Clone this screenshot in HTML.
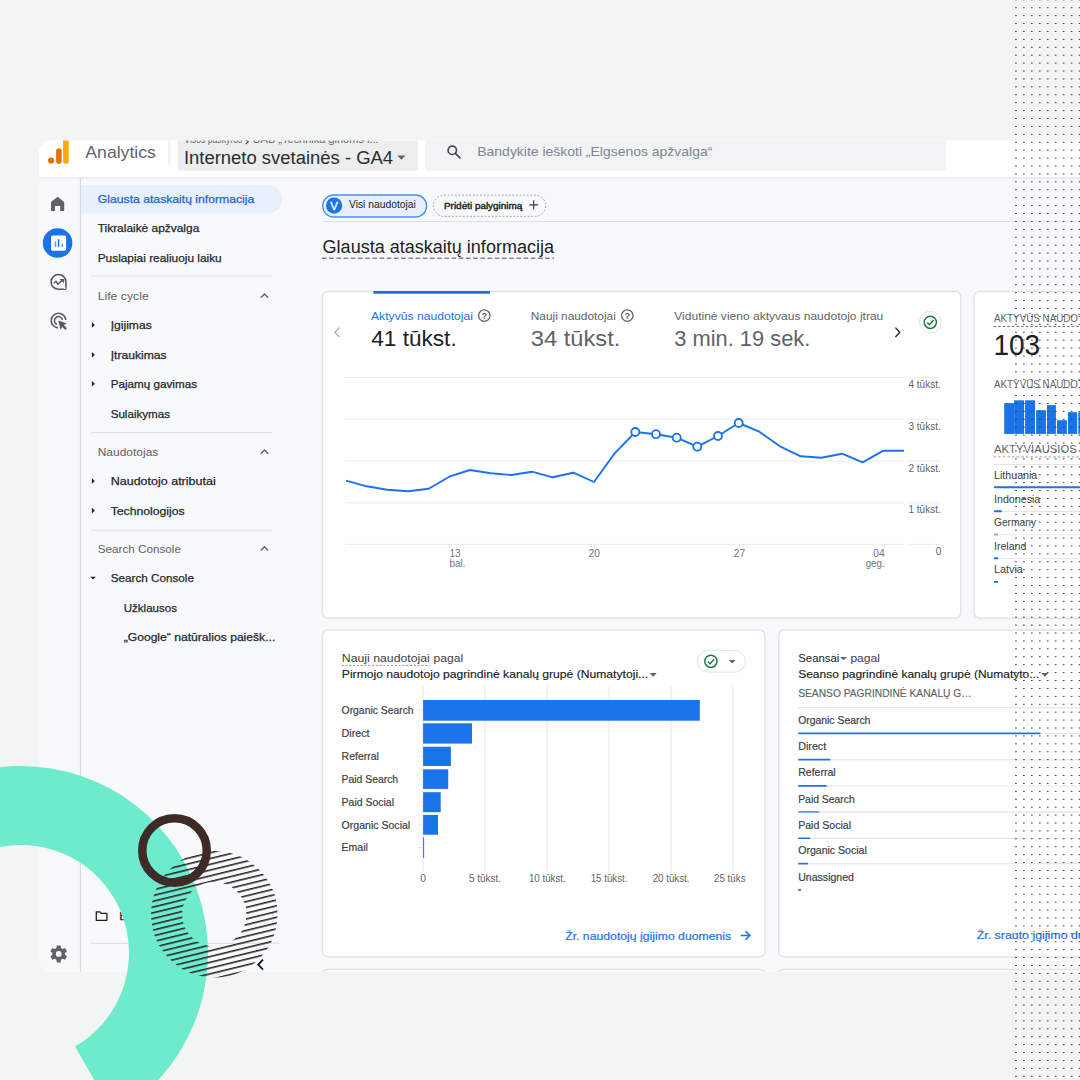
<!DOCTYPE html>
<html lang="lt"><head><meta charset="utf-8"><title>Analytics</title>
<style>
html,body{margin:0;padding:0;background:#f3f5f4;}
body{width:1080px;height:1080px;overflow:hidden;font-family:"Liberation Sans",sans-serif;}
svg{display:block;font-family:"Liberation Sans",sans-serif;}
</style></head><body>
<svg width="1080" height="1080" viewBox="0 0 1080 1080">
<defs>
<clipPath id="shot"><path d="M50.1 140.6H1080V972H50.1a11 11 0 0 1-11-11V151.6a11 11 0 0 1 11-11z"/></clipPath>
<pattern id="dots" x="1011.93" y="-3.585" width="7.955" height="7.911" patternUnits="userSpaceOnUse">
<rect x="3.13" y="3.42" width="1.7" height="1.08" rx="0.45" fill="#3c3c3c"/></pattern>
<pattern id="hatch" x="0" y="0.15" width="10" height="5.6" patternUnits="userSpaceOnUse" patternTransform="translate(214.3 914.2) rotate(-13.7)">
<rect x="0" y="0" width="10" height="1.55" fill="#242424"/></pattern>
<mask id="donut"><rect x="140" y="840" width="150" height="150" fill="#000"/>
<circle cx="214.3" cy="914.2" r="47.7" fill="none" stroke="#fff" stroke-width="31"/></mask>
</defs>

<rect x="0.00" y="0.00" width="1080.00" height="1080.00" fill="#f3f5f4" />
<g clip-path="url(#shot)">
<rect x="0.00" y="0.00" width="1080.00" height="1080.00" fill="#f8f9fa" />
<rect x="0.00" y="130.00" width="1080.00" height="47.40" fill="#ffffff" />
<line x1="0.00" y1="177.80" x2="1080.00" y2="177.80" stroke="#e4e6ec" stroke-width="1.2" />
<circle cx="51.1" cy="160.5" r="3.1" fill="#e37400"/>
<rect x="56.10" y="148.20" width="5.60" height="15.50" rx="2.8" fill="#e37400" />
<rect x="63.10" y="132.00" width="5.60" height="31.70" rx="2.8" fill="#f9ab00" />
<text x="85.30" y="157.50" font-size="17" fill="#5f6368" textLength="70.60" lengthAdjust="spacingAndGlyphs">Analytics</text>
<line x1="169.10" y1="138.00" x2="169.10" y2="164.60" stroke="#e3e5e8" stroke-width="1.2" />
<rect x="177.80" y="130.00" width="240.30" height="40.70" rx="4" fill="#eceeee" />
<text x="184.30" y="143.00" font-size="10" fill="#5f6368" textLength="58.00" lengthAdjust="spacingAndGlyphs">Visos paskyros</text>
<path d="M245.8 139.6l2.4 2.2-2.4 2.2" fill="none" stroke="#3c4043" stroke-width="1.1"/>
<text x="252.60" y="143.00" font-size="10" fill="#5f6368" textLength="126.00" lengthAdjust="spacingAndGlyphs">UAB „Technika ginoms i...</text>
<text x="183.90" y="163.70" font-size="17.6" fill="#2a2c2f" textLength="209.20" lengthAdjust="spacingAndGlyphs">Interneto svetainės - GA4</text>
<path d="M397.3 155.6h8.2l-4.1 4.2z" fill="#5f6368"/>
<rect x="425.00" y="130.00" width="521.00" height="40.70" rx="4" fill="#f1f3f4" />
<g fill="none" stroke="#47494d" stroke-width="1.7"><circle cx="452.3" cy="150.3" r="4.2"/><path d="M455.4 153.4l4.5 4.5" stroke-linecap="round"/></g>
<text x="477.30" y="156.20" font-size="12.8" fill="#80868b" textLength="235.00" lengthAdjust="spacingAndGlyphs">Bandykite ieškoti „Elgsenos apžvalga“</text>
<line x1="80.40" y1="178.00" x2="80.40" y2="980.00" stroke="#d3d5d9" stroke-width="1.0" />
<path d="M57.6 196.8L64.2 202.1V211.0H60.2V206.0H55.0V211.0H51.0V202.1Z" fill="#5f6368"/>
<circle cx="57.6" cy="243.0" r="14.8" fill="#1a73e8"/>
<rect x="51.00" y="235.60" width="15.10" height="15.20" rx="1.7" fill="#ffffff" />
<rect x="54.70" y="241.40" width="1.50" height="5.50" fill="#4da3f8" />
<rect x="57.80" y="239.10" width="1.50" height="7.80" fill="#1a73e8" />
<rect x="61.50" y="243.50" width="1.60" height="3.40" fill="#4da3f8" />
<g fill="none" stroke="#565a60" stroke-width="1.6"><path d="M65.9 288.6v-6.7a7.4 7.4 0 1 0-7.4 7.4h6.7z" stroke-linejoin="round"/><path d="M53.7 283.3l2.3-2.0 1.9 3.0 4.2-4.0" stroke-width="1.5"/></g>
<path d="M59.6 278.9h4.3v4.3z" fill="#565a60"/>
<circle cx="64.7" cy="288.0" r="1.0" fill="#f8f9fa"/>
<g fill="none" stroke="#565a60" stroke-width="1.6"><path d="M58.0 327.9a7.3 7.3 0 1 1 7.8-7.9"/><path d="M56.9 324.5a4.1 4.1 0 1 1 5.6-4.6" stroke-width="1.5"/></g>
<path d="M58.3 320.4l8.6 3.2-3.2 1.5 3.2 3.2-1.6 1.6-3.2-3.2-1.5 3.2z" fill="#565a60"/>
<g transform="translate(58.7 953.9) scale(0.81)"><path fill="#5f6368" d="M9.3 1.2c0-.4 0-.8-.1-1.2l2.5-2-2.4-4.1-3 1.2c-.6-.5-1.300-.9-2-1.200L3.800-9.300H-.9l-.5 3.200c-.7.3-1.400.7-2 1.200l-3-1.200-2.400 4.100 2.500 2c-.1.400-.1.800-.1 1.200s0 .8.100 1.200l-2.500 2 2.400 4.100 3-1.200c.6.500 1.300.9 2 1.200l.5 3.200h4.700l.5-3.200c.7-.3 1.400-.7 2-1.200l3 1.200 2.400-4.100-2.500-2c.1-.4.100-.8.100-1.200zM1.450 4.750a3.550 3.550 0 1 1 0-7.100 3.550 3.550 0 0 1 0 7.100z" transform="translate(-1.45 -1.2)"/></g>
<path d="M81 185.0h187.2a14.2 14.2 0 0 1 0 28.4H81z" fill="#e8f0fe"/>
<text x="97.80" y="202.70" font-size="11" fill="#1967d2" textLength="156.50" lengthAdjust="spacingAndGlyphs" stroke="#1967d2" stroke-width="0.25">Glausta ataskaitų informacija</text>
<text x="97.70" y="231.80" font-size="11" fill="#24272b" textLength="101.60" lengthAdjust="spacingAndGlyphs" stroke="#24272b" stroke-width="0.25">Tikralaikė apžvalga</text>
<text x="97.70" y="261.70" font-size="11" fill="#24272b" textLength="124.00" lengthAdjust="spacingAndGlyphs" stroke="#24272b" stroke-width="0.25">Puslapiai realiuoju laiku</text>
<line x1="91.00" y1="276.10" x2="272.00" y2="276.10" stroke="#dadce0" stroke-width="0.9" />
<text x="97.70" y="300.00" font-size="11" fill="#5f6368" textLength="51.00" lengthAdjust="spacingAndGlyphs">Life cycle</text>
<path d="M260.8 297.8l3.7-3.7 3.7 3.7" fill="none" stroke="#5f6368" stroke-width="1.4"/>
<path d="M91.9 322.2v5.6l2.9-2.8z" fill="#1f1f1f"/>
<text x="110.70" y="329.00" font-size="11" fill="#24272b" textLength="41.00" lengthAdjust="spacingAndGlyphs" stroke="#24272b" stroke-width="0.25">Įgijimas</text>
<path d="M91.9 352.0v5.6l2.9-2.8z" fill="#1f1f1f"/>
<text x="110.70" y="358.80" font-size="11" fill="#24272b" textLength="56.00" lengthAdjust="spacingAndGlyphs" stroke="#24272b" stroke-width="0.25">Įtraukimas</text>
<path d="M91.9 381.0v5.6l2.9-2.8z" fill="#1f1f1f"/>
<text x="110.70" y="387.80" font-size="11" fill="#24272b" textLength="86.30" lengthAdjust="spacingAndGlyphs" stroke="#24272b" stroke-width="0.25">Pajamų gavimas</text>
<text x="110.70" y="417.60" font-size="11" fill="#24272b" textLength="59.30" lengthAdjust="spacingAndGlyphs" stroke="#24272b" stroke-width="0.25">Sulaikymas</text>
<line x1="91.00" y1="432.70" x2="272.00" y2="432.70" stroke="#dadce0" stroke-width="1" />
<text x="97.70" y="456.00" font-size="11" fill="#5f6368" textLength="60.60" lengthAdjust="spacingAndGlyphs">Naudotojas</text>
<path d="M260.8 453.8l3.7-3.7 3.7 3.7" fill="none" stroke="#5f6368" stroke-width="1.4"/>
<path d="M91.9 478.2v5.6l2.9-2.8z" fill="#1f1f1f"/>
<text x="110.70" y="485.00" font-size="11" fill="#24272b" textLength="105.00" lengthAdjust="spacingAndGlyphs" stroke="#24272b" stroke-width="0.25">Naudotojo atributai</text>
<path d="M91.9 507.8v5.6l2.9-2.8z" fill="#1f1f1f"/>
<text x="110.70" y="514.60" font-size="11" fill="#24272b" textLength="74.00" lengthAdjust="spacingAndGlyphs" stroke="#24272b" stroke-width="0.25">Technologijos</text>
<line x1="91.00" y1="530.20" x2="272.00" y2="530.20" stroke="#dadce0" stroke-width="1" />
<text x="97.70" y="552.70" font-size="11" fill="#5f6368" textLength="83.30" lengthAdjust="spacingAndGlyphs">Search Console</text>
<path d="M260.8 550.5l3.7-3.7 3.7 3.7" fill="none" stroke="#5f6368" stroke-width="1.4"/>
<path d="M90.3 576.7h5.6l-2.8 2.9z" fill="#1f1f1f"/>
<text x="110.70" y="581.70" font-size="11" fill="#24272b" textLength="83.30" lengthAdjust="spacingAndGlyphs" stroke="#24272b" stroke-width="0.25">Search Console</text>
<text x="123.70" y="611.60" font-size="11" fill="#24272b" textLength="53.30" lengthAdjust="spacingAndGlyphs" stroke="#24272b" stroke-width="0.25">Užklausos</text>
<text x="123.70" y="640.70" font-size="11" fill="#24272b" textLength="151.60" lengthAdjust="spacingAndGlyphs" stroke="#24272b" stroke-width="0.25">„Google“ natūralios paiešk...</text>
<path d="M96.3 911.9h3.6l1.3 1.4h5.7v7.0h-10.6z" fill="none" stroke="#1f1f1f" stroke-width="1.3" stroke-linejoin="round"/>
<text x="119.20" y="919.60" font-size="11" fill="#24272b" textLength="52.00" lengthAdjust="spacingAndGlyphs" stroke="#24272b" stroke-width="0.25">Biblioteka</text>
<line x1="91.00" y1="943.30" x2="279.00" y2="943.30" stroke="#dadce0" stroke-width="1" />
<path d="M263.0 959.6l-4.8 5.0 4.8 5.0" fill="none" stroke="#101828" stroke-width="1.9"/>
<rect x="322.70" y="195.00" width="103.90" height="22.00" rx="11.0" fill="#e8f0fe" stroke="#4e8fee" stroke-width="1.3"/>
<circle cx="334.1" cy="205.6" r="8.1" fill="#1a73e8"/>
<text x="334.10" y="209.70" font-size="11.5" fill="#ffffff" text-anchor="middle" stroke="#ffffff" stroke-width="0.35">V</text>
<text x="349.00" y="208.40" font-size="10" fill="#202124" textLength="66.80" lengthAdjust="spacingAndGlyphs">Visi naudotojai</text>
<rect x="433.40" y="195.10" width="112.30" height="21.20" rx="10.6" fill="none" stroke="#9aa0a6" stroke-width="0.9" stroke-dasharray="2 1.6"/>
<text x="444.00" y="208.50" font-size="9.2" fill="#202124" textLength="78.30" lengthAdjust="spacingAndGlyphs" stroke="#202124" stroke-width="0.4">Pridėti palyginimą</text>
<path d="M529.2 204.8h9M533.7 200.3v9" stroke="#3c4043" stroke-width="1.2" fill="none"/>
<line x1="322.60" y1="221.60" x2="1080.00" y2="221.60" stroke="#d8dadd" stroke-width="0.9" />
<text x="322.60" y="252.60" font-size="17.5" fill="#202124" textLength="231.40" lengthAdjust="spacingAndGlyphs">Glausta ataskaitų informacija</text>
<line x1="322.00" y1="258.20" x2="554.00" y2="258.20" stroke="#80868b" stroke-width="1.4" stroke-dasharray="4.6 2.6"/>
<rect x="322.50" y="291.60" width="638.30" height="326.60" rx="5.5" fill="#ffffff" stroke="#e1e3e8" stroke-width="1.5"/>
<rect x="373.30" y="291.00" width="116.70" height="2.70" rx="0.5" fill="#1a73e8" />
<path d="M339.4 327.6l-4.4 4.7 4.4 4.7" fill="none" stroke="#9aa0a6" stroke-width="1.1"/>
<path d="M895.4 327.6l4.4 4.7-4.4 4.7" fill="none" stroke="#202124" stroke-width="1.3"/>
<text x="371.00" y="320.00" font-size="11" fill="#1a73e8" textLength="102.00" lengthAdjust="spacingAndGlyphs">Aktyvūs naudotojai</text>
<circle cx="484.3" cy="315.6" r="5.7" fill="none" stroke="#5f6368" stroke-width="1.3"/>
<text x="484.30" y="318.90" font-size="9.4" fill="#5f6368" font-weight="700" text-anchor="middle">?</text>
<text x="371.20" y="346.00" font-size="22.5" fill="#202124" textLength="85.50" lengthAdjust="spacingAndGlyphs">41 tūkst.</text>
<text x="530.80" y="320.00" font-size="11" fill="#5f6368" textLength="85.00" lengthAdjust="spacingAndGlyphs">Nauji naudotojai</text>
<circle cx="627.3" cy="315.6" r="5.7" fill="none" stroke="#5f6368" stroke-width="1.3"/>
<text x="627.30" y="318.90" font-size="9.4" fill="#5f6368" font-weight="700" text-anchor="middle">?</text>
<text x="530.80" y="346.00" font-size="22.5" fill="#5f6368" textLength="89.50" lengthAdjust="spacingAndGlyphs">34 tūkst.</text>
<text x="674.30" y="320.00" font-size="11" fill="#5f6368" textLength="209.00" lengthAdjust="spacingAndGlyphs">Vidutinė vieno aktyvaus naudotojo įtrau</text>
<text x="674.30" y="346.00" font-size="22.5" fill="#5f6368" textLength="136.00" lengthAdjust="spacingAndGlyphs">3 min. 19 sek.</text>
<circle cx="930.3" cy="322.3" r="11" fill="#ffffff" stroke="#e3e5e8" stroke-width="1"/>
<circle cx="930.3" cy="322.3" r="6.1" fill="none" stroke="#1b7a3e" stroke-width="1.5"/>
<path d="M927.2 322.5l2.2 2.2 4.2-4.4" fill="none" stroke="#1b7a3e" stroke-width="1.5"/>
<line x1="345.20" y1="377.40" x2="904.00" y2="377.40" stroke="#ebecee" stroke-width="1.0" />
<line x1="908.30" y1="377.40" x2="940.30" y2="377.40" stroke="#ebecee" stroke-width="1.0" />
<line x1="345.20" y1="419.10" x2="904.00" y2="419.10" stroke="#ebecee" stroke-width="1.0" />
<line x1="908.30" y1="419.10" x2="940.30" y2="419.10" stroke="#ebecee" stroke-width="1.0" />
<line x1="345.20" y1="461.00" x2="904.00" y2="461.00" stroke="#ebecee" stroke-width="1.0" />
<line x1="908.30" y1="461.00" x2="940.30" y2="461.00" stroke="#ebecee" stroke-width="1.0" />
<line x1="345.20" y1="502.90" x2="904.00" y2="502.90" stroke="#ebecee" stroke-width="1.0" />
<line x1="908.30" y1="502.90" x2="940.30" y2="502.90" stroke="#ebecee" stroke-width="1.0" />
<line x1="345.20" y1="544.40" x2="904.00" y2="544.40" stroke="#ebecee" stroke-width="1.0" />
<line x1="908.30" y1="544.40" x2="940.30" y2="544.40" stroke="#ebecee" stroke-width="1.0" />
<text x="940.70" y="387.90" font-size="10.6" fill="#5f6368" text-anchor="end" textLength="32.20" lengthAdjust="spacingAndGlyphs">4 tūkst.</text>
<text x="940.70" y="429.60" font-size="10.6" fill="#5f6368" text-anchor="end" textLength="32.20" lengthAdjust="spacingAndGlyphs">3 tūkst.</text>
<text x="940.70" y="471.50" font-size="10.6" fill="#5f6368" text-anchor="end" textLength="32.20" lengthAdjust="spacingAndGlyphs">2 tūkst.</text>
<text x="940.70" y="513.40" font-size="10.6" fill="#5f6368" text-anchor="end" textLength="32.20" lengthAdjust="spacingAndGlyphs">1 tūkst.</text>
<text x="941.30" y="554.50" font-size="10.6" fill="#5f6368" text-anchor="end" textLength="5.60" lengthAdjust="spacingAndGlyphs">0</text>
<line x1="449.30" y1="544.40" x2="449.30" y2="548.00" stroke="#dadce0" stroke-width="1" />
<line x1="594.20" y1="544.40" x2="594.20" y2="548.00" stroke="#dadce0" stroke-width="1" />
<line x1="739.60" y1="544.40" x2="739.60" y2="548.00" stroke="#dadce0" stroke-width="1" />
<line x1="884.30" y1="544.40" x2="884.30" y2="548.00" stroke="#dadce0" stroke-width="1" />
<text x="449.40" y="556.90" font-size="10.6" fill="#70757a" textLength="11.40" lengthAdjust="spacingAndGlyphs">13</text>
<text x="449.60" y="566.80" font-size="10.6" fill="#70757a" textLength="15.80" lengthAdjust="spacingAndGlyphs">bal.</text>
<text x="594.20" y="556.90" font-size="10.6" fill="#70757a" text-anchor="middle" textLength="11.40" lengthAdjust="spacingAndGlyphs">20</text>
<text x="739.40" y="556.90" font-size="10.6" fill="#70757a" text-anchor="middle" textLength="11.40" lengthAdjust="spacingAndGlyphs">27</text>
<text x="884.70" y="556.90" font-size="10.6" fill="#70757a" text-anchor="end" textLength="11.40" lengthAdjust="spacingAndGlyphs">04</text>
<text x="884.70" y="566.80" font-size="10.6" fill="#70757a" text-anchor="end" textLength="19.00" lengthAdjust="spacingAndGlyphs">geg.</text>
<polyline points="346.0,480.7 366.7,486.3 387.3,489.7 408.0,491.3 428.7,488.7 449.3,476.7 470.0,470.0 490.7,473.3 511.3,475.0 532.0,471.7 552.7,477.3 573.3,472.7 594.0,482.0 614.7,453.3 635.3,432.0 656.0,434.2 676.7,437.7 697.3,446.7 718.0,436.0 738.7,423.0 759.3,431.7 780.0,446.3 800.7,456.3 821.3,457.7 842.0,453.7 862.7,462.3 883.3,450.7 904.0,450.7" fill="none" stroke="#1a73e8" stroke-width="1.9" stroke-linejoin="round"/>
<circle cx="635.3" cy="432.0" r="4.0" fill="#ffffff" stroke="#1a73e8" stroke-width="1.8"/>
<circle cx="656.0" cy="434.2" r="4.0" fill="#ffffff" stroke="#1a73e8" stroke-width="1.8"/>
<circle cx="676.7" cy="437.7" r="4.0" fill="#ffffff" stroke="#1a73e8" stroke-width="1.8"/>
<circle cx="697.3" cy="446.7" r="4.0" fill="#ffffff" stroke="#1a73e8" stroke-width="1.8"/>
<circle cx="718.0" cy="436.0" r="4.0" fill="#ffffff" stroke="#1a73e8" stroke-width="1.8"/>
<circle cx="738.7" cy="423.0" r="4.0" fill="#ffffff" stroke="#1a73e8" stroke-width="1.8"/>
<rect x="974.00" y="291.60" width="200.00" height="326.60" rx="5.5" fill="#ffffff" stroke="#e1e3e8" stroke-width="1.5"/>
<text x="994.00" y="322.00" font-size="10.4" fill="#5f6368" textLength="90.00" lengthAdjust="spacingAndGlyphs">AKTYVŪS NAUDOT</text>
<line x1="993.50" y1="326.50" x2="1080.00" y2="326.50" stroke="#5f6368" stroke-width="0.9" stroke-dasharray="2.6 2"/>
<text x="993.40" y="354.70" font-size="29.5" fill="#202124" textLength="46.80" lengthAdjust="spacingAndGlyphs">103</text>
<text x="994.00" y="387.80" font-size="10.4" fill="#5f6368" textLength="90.00" lengthAdjust="spacingAndGlyphs">AKTYVŪS NAUDOT</text>
<rect x="1004.20" y="403.10" width="9.90" height="30.80" fill="#1a73e8" />
<rect x="1014.10" y="400.30" width="10.00" height="33.60" fill="#1a73e8" />
<rect x="1025.10" y="400.30" width="9.90" height="33.60" fill="#1a73e8" />
<rect x="1036.10" y="410.20" width="9.90" height="23.70" fill="#1a73e8" />
<rect x="1047.00" y="405.10" width="8.90" height="28.80" fill="#1a73e8" />
<rect x="1057.00" y="420.20" width="9.90" height="13.70" fill="#1a73e8" />
<rect x="1068.00" y="412.20" width="9.20" height="21.70" fill="#1a73e8" />
<rect x="1078.30" y="412.20" width="9.90" height="21.70" fill="#1a73e8" />
<text x="994.00" y="452.80" font-size="10.4" fill="#5f6368" textLength="93.50" lengthAdjust="spacingAndGlyphs">AKTYVIAUSIOS Š</text>
<line x1="993.50" y1="456.90" x2="1080.00" y2="456.90" stroke="#9aa0a6" stroke-width="1" stroke-dasharray="2.6 2"/>
<line x1="993.50" y1="464.50" x2="1080.00" y2="464.50" stroke="#e3e5e8" stroke-width="1" />
<text x="994.00" y="478.80" font-size="10.2" fill="#3c4043" textLength="43.30" lengthAdjust="spacingAndGlyphs">Lithuania</text>
<line x1="993.50" y1="487.50" x2="1080.00" y2="487.50" stroke="#e3e5e8" stroke-width="1" />
<rect x="994.00" y="486.30" width="90.00" height="1.90" rx="0.4" fill="#1a73e8" />
<text x="994.00" y="502.80" font-size="10.2" fill="#3c4043" textLength="46.30" lengthAdjust="spacingAndGlyphs">Indonesia</text>
<line x1="993.50" y1="511.50" x2="1080.00" y2="511.50" stroke="#e3e5e8" stroke-width="1" />
<rect x="994.00" y="510.30" width="7.80" height="1.90" rx="0.4" fill="#1a73e8" />
<text x="994.00" y="526.10" font-size="10.2" fill="#3c4043" textLength="42.00" lengthAdjust="spacingAndGlyphs">Germany</text>
<line x1="993.50" y1="534.80" x2="1080.00" y2="534.80" stroke="#e3e5e8" stroke-width="1" />
<rect x="994.00" y="533.60" width="4.20" height="1.90" rx="0.4" fill="#8ab4f8" />
<text x="994.00" y="549.80" font-size="10.2" fill="#3c4043" textLength="32.30" lengthAdjust="spacingAndGlyphs">Ireland</text>
<line x1="993.50" y1="558.50" x2="1080.00" y2="558.50" stroke="#e3e5e8" stroke-width="1" />
<rect x="994.00" y="557.30" width="4.20" height="1.90" rx="0.4" fill="#1a73e8" />
<text x="994.00" y="573.40" font-size="10.2" fill="#3c4043" textLength="28.80" lengthAdjust="spacingAndGlyphs">Latvia</text>
<rect x="994.00" y="580.90" width="4.20" height="1.90" rx="0.4" fill="#1a73e8" />
<rect x="322.50" y="630.00" width="442.50" height="326.90" rx="5.5" fill="#ffffff" stroke="#e1e3e8" stroke-width="1.5"/>
<text x="341.80" y="662.20" font-size="11" fill="#3c4043" textLength="88.00" lengthAdjust="spacingAndGlyphs">Nauji naudotojai</text>
<text x="433.60" y="662.20" font-size="11" fill="#3c4043" textLength="29.60" lengthAdjust="spacingAndGlyphs">pagal</text>
<line x1="341.50" y1="665.40" x2="430.00" y2="665.40" stroke="#80868b" stroke-width="0.9" stroke-dasharray="2.2 1.6"/>
<text x="341.80" y="678.40" font-size="11" fill="#202124" textLength="306.40" lengthAdjust="spacingAndGlyphs" stroke="#202124" stroke-width="0.15">Pirmojo naudotojo pagrindinė kanalų grupė (Numatytoji...</text>
<path d="M649.6 673.0h7.2l-3.6 3.7z" fill="#5f6368"/>
<rect x="697.30" y="650.40" width="48.30" height="21.80" rx="10.9" fill="#ffffff" stroke="#e3e5e8" stroke-width="1"/>
<circle cx="710.9" cy="661.3" r="6.1" fill="none" stroke="#1b7a3e" stroke-width="1.5"/>
<path d="M707.8 661.5l2.2 2.2 4.2-4.4" fill="none" stroke="#1b7a3e" stroke-width="1.5"/>
<path d="M728.8 659.9h6.8l-3.4 3.5z" fill="#5f6368"/>
<line x1="423.10" y1="686.70" x2="423.10" y2="871.20" stroke="#e6e8eb" stroke-width="1.1" />
<line x1="485.00" y1="686.70" x2="485.00" y2="871.20" stroke="#e6e8eb" stroke-width="1.1" />
<line x1="547.30" y1="686.70" x2="547.30" y2="871.20" stroke="#e6e8eb" stroke-width="1.1" />
<line x1="609.10" y1="686.70" x2="609.10" y2="871.20" stroke="#e6e8eb" stroke-width="1.1" />
<line x1="671.10" y1="686.70" x2="671.10" y2="871.20" stroke="#e6e8eb" stroke-width="1.1" />
<line x1="732.90" y1="686.70" x2="732.90" y2="871.20" stroke="#e6e8eb" stroke-width="1.1" />
<line x1="418.00" y1="710.35" x2="423.10" y2="710.35" stroke="#e6e8eb" stroke-width="1" />
<rect x="423.10" y="700.00" width="276.70" height="20.70" fill="#1a73e8" />
<text x="341.60" y="714.15" font-size="11" fill="#3c4043" textLength="72.00" lengthAdjust="spacingAndGlyphs" stroke="#3c4043" stroke-width="0.2">Organic Search</text>
<line x1="418.00" y1="733.45" x2="423.10" y2="733.45" stroke="#e6e8eb" stroke-width="1" />
<rect x="423.10" y="723.30" width="48.90" height="20.30" fill="#1a73e8" />
<text x="341.60" y="737.25" font-size="11" fill="#3c4043" textLength="28.00" lengthAdjust="spacingAndGlyphs" stroke="#3c4043" stroke-width="0.2">Direct</text>
<line x1="418.00" y1="756.35" x2="423.10" y2="756.35" stroke="#e6e8eb" stroke-width="1" />
<rect x="423.10" y="746.70" width="27.80" height="19.30" fill="#1a73e8" />
<text x="341.60" y="760.15" font-size="11" fill="#3c4043" textLength="37.30" lengthAdjust="spacingAndGlyphs" stroke="#3c4043" stroke-width="0.2">Referral</text>
<line x1="418.00" y1="779.10" x2="423.10" y2="779.10" stroke="#e6e8eb" stroke-width="1" />
<rect x="423.10" y="769.30" width="25.10" height="19.60" fill="#1a73e8" />
<text x="341.60" y="782.90" font-size="11" fill="#3c4043" textLength="56.50" lengthAdjust="spacingAndGlyphs" stroke="#3c4043" stroke-width="0.2">Paid Search</text>
<line x1="418.00" y1="802.20" x2="423.10" y2="802.20" stroke="#e6e8eb" stroke-width="1" />
<rect x="423.10" y="792.20" width="17.60" height="20.00" fill="#1a73e8" />
<text x="341.60" y="806.00" font-size="11" fill="#3c4043" textLength="52.40" lengthAdjust="spacingAndGlyphs" stroke="#3c4043" stroke-width="0.2">Paid Social</text>
<line x1="418.00" y1="824.80" x2="423.10" y2="824.80" stroke="#e6e8eb" stroke-width="1" />
<rect x="423.10" y="814.90" width="14.90" height="19.80" fill="#1a73e8" />
<text x="341.60" y="828.60" font-size="11" fill="#3c4043" textLength="68.60" lengthAdjust="spacingAndGlyphs" stroke="#3c4043" stroke-width="0.2">Organic Social</text>
<line x1="418.00" y1="847.55" x2="423.10" y2="847.55" stroke="#e6e8eb" stroke-width="1" />
<rect x="423.10" y="837.30" width="1.00" height="20.50" fill="#1a73e8" />
<text x="341.60" y="851.35" font-size="11" fill="#3c4043" textLength="26.20" lengthAdjust="spacingAndGlyphs" stroke="#3c4043" stroke-width="0.2">Email</text>
<text x="423.10" y="881.60" font-size="10.2" fill="#5f6368" text-anchor="middle">0</text>
<text x="485.00" y="881.60" font-size="10.2" fill="#5f6368" text-anchor="middle" textLength="32.00" lengthAdjust="spacingAndGlyphs">5 tūkst.</text>
<text x="547.30" y="881.60" font-size="10.2" fill="#5f6368" text-anchor="middle" textLength="36.80" lengthAdjust="spacingAndGlyphs">10 tūkst.</text>
<text x="609.10" y="881.60" font-size="10.2" fill="#5f6368" text-anchor="middle" textLength="36.80" lengthAdjust="spacingAndGlyphs">15 tūkst.</text>
<text x="671.10" y="881.60" font-size="10.2" fill="#5f6368" text-anchor="middle" textLength="36.80" lengthAdjust="spacingAndGlyphs">20 tūkst.</text>
<text x="714.00" y="881.60" font-size="10.2" fill="#5f6368" textLength="31.60" lengthAdjust="spacingAndGlyphs">25 tūks</text>
<text x="565.20" y="939.50" font-size="11" fill="#1a73e8" textLength="166.00" lengthAdjust="spacingAndGlyphs" stroke="#1a73e8" stroke-width="0.2">Žr. naudotojų įgijimo duomenis</text>
<path d="M740.6 935.5h9.2M745.6 931.3l4.2 4.2-4.2 4.2" fill="none" stroke="#1a73e8" stroke-width="1.6"/>
<rect x="778.70" y="630.00" width="400.00" height="326.90" rx="5.5" fill="#ffffff" stroke="#e1e3e8" stroke-width="1.5"/>
<text x="798.20" y="662.20" font-size="11" fill="#202124" textLength="41.20" lengthAdjust="spacingAndGlyphs">Seansai</text>
<path d="M840.2 656.9h6.6l-3.3 3.4z" fill="#5f6368"/>
<text x="850.40" y="662.20" font-size="11" fill="#3c4043" textLength="29.60" lengthAdjust="spacingAndGlyphs">pagal</text>
<text x="798.20" y="678.30" font-size="11" fill="#202124" textLength="241.00" lengthAdjust="spacingAndGlyphs" stroke="#202124" stroke-width="0.15">Seanso pagrindinė kanalų grupė (Numatyto...</text>
<path d="M1041.2 673.0h7.2l-3.6 3.7z" fill="#5f6368"/>
<text x="798.20" y="696.90" font-size="10.2" fill="#5f6368" textLength="173.40" lengthAdjust="spacingAndGlyphs" stroke="#5f6368" stroke-width="0.15">SEANSO PAGRINDINĖ KANALŲ G…</text>
<line x1="798.00" y1="707.60" x2="1080.00" y2="707.60" stroke="#e3e5e8" stroke-width="1.1" />
<text x="798.20" y="723.90" font-size="11" fill="#3c4043" textLength="72.20" lengthAdjust="spacingAndGlyphs" stroke="#3c4043" stroke-width="0.2">Organic Search</text>
<line x1="798.00" y1="733.50" x2="1080.00" y2="733.50" stroke="#e3e5e8" stroke-width="1.1" />
<rect x="798.20" y="732.50" width="242.20" height="1.70" rx="0.3" fill="#1a73e8" />
<text x="798.20" y="750.10" font-size="11" fill="#3c4043" textLength="28.00" lengthAdjust="spacingAndGlyphs" stroke="#3c4043" stroke-width="0.2">Direct</text>
<line x1="798.00" y1="759.70" x2="1080.00" y2="759.70" stroke="#e3e5e8" stroke-width="1.1" />
<rect x="798.20" y="758.70" width="32.10" height="1.70" rx="0.3" fill="#1a73e8" />
<text x="798.20" y="776.40" font-size="11" fill="#3c4043" textLength="37.40" lengthAdjust="spacingAndGlyphs" stroke="#3c4043" stroke-width="0.2">Referral</text>
<line x1="798.00" y1="786.00" x2="1080.00" y2="786.00" stroke="#e3e5e8" stroke-width="1.1" />
<rect x="798.20" y="785.00" width="28.60" height="1.70" rx="0.3" fill="#1a73e8" />
<text x="798.20" y="802.50" font-size="11" fill="#3c4043" textLength="56.60" lengthAdjust="spacingAndGlyphs" stroke="#3c4043" stroke-width="0.2">Paid Search</text>
<line x1="798.00" y1="812.10" x2="1080.00" y2="812.10" stroke="#e3e5e8" stroke-width="1.1" />
<rect x="798.20" y="811.10" width="21.20" height="1.70" rx="0.3" fill="#5e9bf0" />
<text x="798.20" y="828.80" font-size="11" fill="#3c4043" textLength="52.80" lengthAdjust="spacingAndGlyphs" stroke="#3c4043" stroke-width="0.2">Paid Social</text>
<line x1="798.00" y1="838.40" x2="1080.00" y2="838.40" stroke="#e3e5e8" stroke-width="1.1" />
<rect x="798.20" y="837.40" width="12.00" height="1.70" rx="0.3" fill="#1a73e8" />
<text x="798.20" y="854.10" font-size="11" fill="#3c4043" textLength="68.60" lengthAdjust="spacingAndGlyphs" stroke="#3c4043" stroke-width="0.2">Organic Social</text>
<line x1="798.00" y1="863.70" x2="1080.00" y2="863.70" stroke="#e3e5e8" stroke-width="1.1" />
<rect x="798.20" y="862.70" width="9.70" height="1.70" rx="0.3" fill="#1a73e8" />
<text x="798.20" y="880.50" font-size="11" fill="#3c4043" textLength="55.80" lengthAdjust="spacingAndGlyphs" stroke="#3c4043" stroke-width="0.2">Unassigned</text>
<rect x="798.20" y="889.10" width="2.80" height="1.70" rx="0.3" fill="#1a73e8" />
<text x="976.70" y="939.40" font-size="11" fill="#1a73e8" textLength="148.00" lengthAdjust="spacingAndGlyphs" stroke="#1a73e8" stroke-width="0.2">Žr. srauto įgijimo duomenis</text>
<rect x="322.50" y="969.40" width="442.50" height="100.00" rx="5.5" fill="#ffffff" stroke="#e1e3e8" stroke-width="1.5"/>
<rect x="778.70" y="969.40" width="400.00" height="100.00" rx="5.5" fill="#ffffff" stroke="#e1e3e8" stroke-width="1.5"/>
</g>
<path d="M-60 784.5 A187 187 0 0 1 21 766 A187 187 0 0 1 114.5 1114.9 L75 1046.5 A108 108 0 0 0 21 845 A108 108 0 0 0 -60 881.6z" fill="#6eebcc"/>
<rect x="140" y="840" width="150" height="150" fill="url(#hatch)" mask="url(#donut)"/>
<circle cx="174.5" cy="850.5" r="32.25" fill="none" stroke="#3e2b28" stroke-width="8.5"/>
<path d="M1015.05 -0.20h1.75m6.205 0h1.75m6.205 0h1.75m6.205 0h1.75m6.205 0h1.75m6.205 0h1.75m6.205 0h1.75m6.205 0h1.75m6.205 0h1.75M1015.05 7.72h1.75m6.205 0h1.75m6.205 0h1.75m6.205 0h1.75m6.205 0h1.75m6.205 0h1.75m6.205 0h1.75m6.205 0h1.75m6.205 0h1.75M1015.05 15.63h1.75m6.205 0h1.75m6.205 0h1.75m6.205 0h1.75m6.205 0h1.75m6.205 0h1.75m6.205 0h1.75m6.205 0h1.75m6.205 0h1.75M1015.05 23.55h1.75m6.205 0h1.75m6.205 0h1.75m6.205 0h1.75m6.205 0h1.75m6.205 0h1.75m6.205 0h1.75m6.205 0h1.75m6.205 0h1.75M1015.05 31.46h1.75m6.205 0h1.75m6.205 0h1.75m6.205 0h1.75m6.205 0h1.75m6.205 0h1.75m6.205 0h1.75m6.205 0h1.75m6.205 0h1.75M1015.05 39.38h1.75m6.205 0h1.75m6.205 0h1.75m6.205 0h1.75m6.205 0h1.75m6.205 0h1.75m6.205 0h1.75m6.205 0h1.75m6.205 0h1.75M1015.05 47.29h1.75m6.205 0h1.75m6.205 0h1.75m6.205 0h1.75m6.205 0h1.75m6.205 0h1.75m6.205 0h1.75m6.205 0h1.75m6.205 0h1.75M1015.05 55.21h1.75m6.205 0h1.75m6.205 0h1.75m6.205 0h1.75m6.205 0h1.75m6.205 0h1.75m6.205 0h1.75m6.205 0h1.75m6.205 0h1.75M1015.05 63.12h1.75m6.205 0h1.75m6.205 0h1.75m6.205 0h1.75m6.205 0h1.75m6.205 0h1.75m6.205 0h1.75m6.205 0h1.75m6.205 0h1.75M1015.05 71.04h1.75m6.205 0h1.75m6.205 0h1.75m6.205 0h1.75m6.205 0h1.75m6.205 0h1.75m6.205 0h1.75m6.205 0h1.75m6.205 0h1.75M1015.05 78.95h1.75m6.205 0h1.75m6.205 0h1.75m6.205 0h1.75m6.205 0h1.75m6.205 0h1.75m6.205 0h1.75m6.205 0h1.75m6.205 0h1.75M1015.05 86.87h1.75m6.205 0h1.75m6.205 0h1.75m6.205 0h1.75m6.205 0h1.75m6.205 0h1.75m6.205 0h1.75m6.205 0h1.75m6.205 0h1.75M1015.05 94.78h1.75m6.205 0h1.75m6.205 0h1.75m6.205 0h1.75m6.205 0h1.75m6.205 0h1.75m6.205 0h1.75m6.205 0h1.75m6.205 0h1.75M1015.05 102.70h1.75m6.205 0h1.75m6.205 0h1.75m6.205 0h1.75m6.205 0h1.75m6.205 0h1.75m6.205 0h1.75m6.205 0h1.75m6.205 0h1.75M1015.05 110.62h1.75m6.205 0h1.75m6.205 0h1.75m6.205 0h1.75m6.205 0h1.75m6.205 0h1.75m6.205 0h1.75m6.205 0h1.75m6.205 0h1.75M1015.05 118.53h1.75m6.205 0h1.75m6.205 0h1.75m6.205 0h1.75m6.205 0h1.75m6.205 0h1.75m6.205 0h1.75m6.205 0h1.75m6.205 0h1.75M1015.05 126.45h1.75m6.205 0h1.75m6.205 0h1.75m6.205 0h1.75m6.205 0h1.75m6.205 0h1.75m6.205 0h1.75m6.205 0h1.75m6.205 0h1.75M1015.05 134.36h1.75m6.205 0h1.75m6.205 0h1.75m6.205 0h1.75m6.205 0h1.75m6.205 0h1.75m6.205 0h1.75m6.205 0h1.75m6.205 0h1.75M1015.05 142.28h1.75m6.205 0h1.75m6.205 0h1.75m6.205 0h1.75m6.205 0h1.75m6.205 0h1.75m6.205 0h1.75m6.205 0h1.75m6.205 0h1.75M1015.05 150.19h1.75m6.205 0h1.75m6.205 0h1.75m6.205 0h1.75m6.205 0h1.75m6.205 0h1.75m6.205 0h1.75m6.205 0h1.75m6.205 0h1.75M1015.05 158.11h1.75m6.205 0h1.75m6.205 0h1.75m6.205 0h1.75m6.205 0h1.75m6.205 0h1.75m6.205 0h1.75m6.205 0h1.75m6.205 0h1.75M1015.05 166.02h1.75m6.205 0h1.75m6.205 0h1.75m6.205 0h1.75m6.205 0h1.75m6.205 0h1.75m6.205 0h1.75m6.205 0h1.75m6.205 0h1.75M1015.05 173.94h1.75m6.205 0h1.75m6.205 0h1.75m6.205 0h1.75m6.205 0h1.75m6.205 0h1.75m6.205 0h1.75m6.205 0h1.75m6.205 0h1.75M1015.05 181.85h1.75m6.205 0h1.75m6.205 0h1.75m6.205 0h1.75m6.205 0h1.75m6.205 0h1.75m6.205 0h1.75m6.205 0h1.75m6.205 0h1.75M1015.05 189.77h1.75m6.205 0h1.75m6.205 0h1.75m6.205 0h1.75m6.205 0h1.75m6.205 0h1.75m6.205 0h1.75m6.205 0h1.75m6.205 0h1.75M1015.05 197.69h1.75m6.205 0h1.75m6.205 0h1.75m6.205 0h1.75m6.205 0h1.75m6.205 0h1.75m6.205 0h1.75m6.205 0h1.75m6.205 0h1.75M1015.05 205.60h1.75m6.205 0h1.75m6.205 0h1.75m6.205 0h1.75m6.205 0h1.75m6.205 0h1.75m6.205 0h1.75m6.205 0h1.75m6.205 0h1.75M1015.05 213.52h1.75m6.205 0h1.75m6.205 0h1.75m6.205 0h1.75m6.205 0h1.75m6.205 0h1.75m6.205 0h1.75m6.205 0h1.75m6.205 0h1.75M1015.05 221.43h1.75m6.205 0h1.75m6.205 0h1.75m6.205 0h1.75m6.205 0h1.75m6.205 0h1.75m6.205 0h1.75m6.205 0h1.75m6.205 0h1.75M1015.05 229.35h1.75m6.205 0h1.75m6.205 0h1.75m6.205 0h1.75m6.205 0h1.75m6.205 0h1.75m6.205 0h1.75m6.205 0h1.75m6.205 0h1.75M1015.05 237.26h1.75m6.205 0h1.75m6.205 0h1.75m6.205 0h1.75m6.205 0h1.75m6.205 0h1.75m6.205 0h1.75m6.205 0h1.75m6.205 0h1.75M1015.05 245.18h1.75m6.205 0h1.75m6.205 0h1.75m6.205 0h1.75m6.205 0h1.75m6.205 0h1.75m6.205 0h1.75m6.205 0h1.75m6.205 0h1.75M1015.05 253.09h1.75m6.205 0h1.75m6.205 0h1.75m6.205 0h1.75m6.205 0h1.75m6.205 0h1.75m6.205 0h1.75m6.205 0h1.75m6.205 0h1.75M1015.05 261.01h1.75m6.205 0h1.75m6.205 0h1.75m6.205 0h1.75m6.205 0h1.75m6.205 0h1.75m6.205 0h1.75m6.205 0h1.75m6.205 0h1.75M1015.05 268.92h1.75m6.205 0h1.75m6.205 0h1.75m6.205 0h1.75m6.205 0h1.75m6.205 0h1.75m6.205 0h1.75m6.205 0h1.75m6.205 0h1.75M1015.05 276.84h1.75m6.205 0h1.75m6.205 0h1.75m6.205 0h1.75m6.205 0h1.75m6.205 0h1.75m6.205 0h1.75m6.205 0h1.75m6.205 0h1.75M1015.05 284.75h1.75m6.205 0h1.75m6.205 0h1.75m6.205 0h1.75m6.205 0h1.75m6.205 0h1.75m6.205 0h1.75m6.205 0h1.75m6.205 0h1.75M1015.05 292.67h1.75m6.205 0h1.75m6.205 0h1.75m6.205 0h1.75m6.205 0h1.75m6.205 0h1.75m6.205 0h1.75m6.205 0h1.75m6.205 0h1.75M1015.05 300.59h1.75m6.205 0h1.75m6.205 0h1.75m6.205 0h1.75m6.205 0h1.75m6.205 0h1.75m6.205 0h1.75m6.205 0h1.75m6.205 0h1.75M1015.05 308.50h1.75m6.205 0h1.75m6.205 0h1.75m6.205 0h1.75m6.205 0h1.75m6.205 0h1.75m6.205 0h1.75m6.205 0h1.75m6.205 0h1.75M1015.05 316.42h1.75m6.205 0h1.75m6.205 0h1.75m6.205 0h1.75m6.205 0h1.75m6.205 0h1.75m6.205 0h1.75m6.205 0h1.75m6.205 0h1.75M1015.05 324.33h1.75m6.205 0h1.75m6.205 0h1.75m6.205 0h1.75m6.205 0h1.75m6.205 0h1.75m6.205 0h1.75m6.205 0h1.75m6.205 0h1.75M1015.05 332.25h1.75m6.205 0h1.75m6.205 0h1.75m6.205 0h1.75m6.205 0h1.75m6.205 0h1.75m6.205 0h1.75m6.205 0h1.75m6.205 0h1.75M1015.05 340.16h1.75m6.205 0h1.75m6.205 0h1.75m6.205 0h1.75m6.205 0h1.75m6.205 0h1.75m6.205 0h1.75m6.205 0h1.75m6.205 0h1.75M1015.05 348.08h1.75m6.205 0h1.75m6.205 0h1.75m6.205 0h1.75m6.205 0h1.75m6.205 0h1.75m6.205 0h1.75m6.205 0h1.75m6.205 0h1.75M1015.05 355.99h1.75m6.205 0h1.75m6.205 0h1.75m6.205 0h1.75m6.205 0h1.75m6.205 0h1.75m6.205 0h1.75m6.205 0h1.75m6.205 0h1.75M1015.05 363.91h1.75m6.205 0h1.75m6.205 0h1.75m6.205 0h1.75m6.205 0h1.75m6.205 0h1.75m6.205 0h1.75m6.205 0h1.75m6.205 0h1.75M1015.05 371.82h1.75m6.205 0h1.75m6.205 0h1.75m6.205 0h1.75m6.205 0h1.75m6.205 0h1.75m6.205 0h1.75m6.205 0h1.75m6.205 0h1.75M1015.05 379.74h1.75m6.205 0h1.75m6.205 0h1.75m6.205 0h1.75m6.205 0h1.75m6.205 0h1.75m6.205 0h1.75m6.205 0h1.75m6.205 0h1.75M1015.05 387.65h1.75m6.205 0h1.75m6.205 0h1.75m6.205 0h1.75m6.205 0h1.75m6.205 0h1.75m6.205 0h1.75m6.205 0h1.75m6.205 0h1.75M1015.05 395.57h1.75m6.205 0h1.75m6.205 0h1.75m6.205 0h1.75m6.205 0h1.75m6.205 0h1.75m6.205 0h1.75m6.205 0h1.75m6.205 0h1.75M1015.05 403.49h1.75m6.205 0h1.75m6.205 0h1.75m6.205 0h1.75m6.205 0h1.75m6.205 0h1.75m6.205 0h1.75m6.205 0h1.75m6.205 0h1.75M1015.05 411.40h1.75m6.205 0h1.75m6.205 0h1.75m6.205 0h1.75m6.205 0h1.75m6.205 0h1.75m6.205 0h1.75m6.205 0h1.75m6.205 0h1.75M1015.05 419.32h1.75m6.205 0h1.75m6.205 0h1.75m6.205 0h1.75m6.205 0h1.75m6.205 0h1.75m6.205 0h1.75m6.205 0h1.75m6.205 0h1.75M1015.05 427.23h1.75m6.205 0h1.75m6.205 0h1.75m6.205 0h1.75m6.205 0h1.75m6.205 0h1.75m6.205 0h1.75m6.205 0h1.75m6.205 0h1.75M1015.05 435.15h1.75m6.205 0h1.75m6.205 0h1.75m6.205 0h1.75m6.205 0h1.75m6.205 0h1.75m6.205 0h1.75m6.205 0h1.75m6.205 0h1.75M1015.05 443.06h1.75m6.205 0h1.75m6.205 0h1.75m6.205 0h1.75m6.205 0h1.75m6.205 0h1.75m6.205 0h1.75m6.205 0h1.75m6.205 0h1.75M1015.05 450.98h1.75m6.205 0h1.75m6.205 0h1.75m6.205 0h1.75m6.205 0h1.75m6.205 0h1.75m6.205 0h1.75m6.205 0h1.75m6.205 0h1.75M1015.05 458.89h1.75m6.205 0h1.75m6.205 0h1.75m6.205 0h1.75m6.205 0h1.75m6.205 0h1.75m6.205 0h1.75m6.205 0h1.75m6.205 0h1.75M1015.05 466.81h1.75m6.205 0h1.75m6.205 0h1.75m6.205 0h1.75m6.205 0h1.75m6.205 0h1.75m6.205 0h1.75m6.205 0h1.75m6.205 0h1.75M1015.05 474.72h1.75m6.205 0h1.75m6.205 0h1.75m6.205 0h1.75m6.205 0h1.75m6.205 0h1.75m6.205 0h1.75m6.205 0h1.75m6.205 0h1.75M1015.05 482.64h1.75m6.205 0h1.75m6.205 0h1.75m6.205 0h1.75m6.205 0h1.75m6.205 0h1.75m6.205 0h1.75m6.205 0h1.75m6.205 0h1.75M1015.05 490.55h1.75m6.205 0h1.75m6.205 0h1.75m6.205 0h1.75m6.205 0h1.75m6.205 0h1.75m6.205 0h1.75m6.205 0h1.75m6.205 0h1.75M1015.05 498.47h1.75m6.205 0h1.75m6.205 0h1.75m6.205 0h1.75m6.205 0h1.75m6.205 0h1.75m6.205 0h1.75m6.205 0h1.75m6.205 0h1.75M1015.05 506.39h1.75m6.205 0h1.75m6.205 0h1.75m6.205 0h1.75m6.205 0h1.75m6.205 0h1.75m6.205 0h1.75m6.205 0h1.75m6.205 0h1.75M1015.05 514.30h1.75m6.205 0h1.75m6.205 0h1.75m6.205 0h1.75m6.205 0h1.75m6.205 0h1.75m6.205 0h1.75m6.205 0h1.75m6.205 0h1.75M1015.05 522.22h1.75m6.205 0h1.75m6.205 0h1.75m6.205 0h1.75m6.205 0h1.75m6.205 0h1.75m6.205 0h1.75m6.205 0h1.75m6.205 0h1.75M1015.05 530.13h1.75m6.205 0h1.75m6.205 0h1.75m6.205 0h1.75m6.205 0h1.75m6.205 0h1.75m6.205 0h1.75m6.205 0h1.75m6.205 0h1.75M1015.05 538.05h1.75m6.205 0h1.75m6.205 0h1.75m6.205 0h1.75m6.205 0h1.75m6.205 0h1.75m6.205 0h1.75m6.205 0h1.75m6.205 0h1.75M1015.05 545.96h1.75m6.205 0h1.75m6.205 0h1.75m6.205 0h1.75m6.205 0h1.75m6.205 0h1.75m6.205 0h1.75m6.205 0h1.75m6.205 0h1.75M1015.05 553.88h1.75m6.205 0h1.75m6.205 0h1.75m6.205 0h1.75m6.205 0h1.75m6.205 0h1.75m6.205 0h1.75m6.205 0h1.75m6.205 0h1.75M1015.05 561.79h1.75m6.205 0h1.75m6.205 0h1.75m6.205 0h1.75m6.205 0h1.75m6.205 0h1.75m6.205 0h1.75m6.205 0h1.75m6.205 0h1.75M1015.05 569.71h1.75m6.205 0h1.75m6.205 0h1.75m6.205 0h1.75m6.205 0h1.75m6.205 0h1.75m6.205 0h1.75m6.205 0h1.75m6.205 0h1.75M1015.05 577.62h1.75m6.205 0h1.75m6.205 0h1.75m6.205 0h1.75m6.205 0h1.75m6.205 0h1.75m6.205 0h1.75m6.205 0h1.75m6.205 0h1.75M1015.05 585.54h1.75m6.205 0h1.75m6.205 0h1.75m6.205 0h1.75m6.205 0h1.75m6.205 0h1.75m6.205 0h1.75m6.205 0h1.75m6.205 0h1.75M1015.05 593.45h1.75m6.205 0h1.75m6.205 0h1.75m6.205 0h1.75m6.205 0h1.75m6.205 0h1.75m6.205 0h1.75m6.205 0h1.75m6.205 0h1.75M1015.05 601.37h1.75m6.205 0h1.75m6.205 0h1.75m6.205 0h1.75m6.205 0h1.75m6.205 0h1.75m6.205 0h1.75m6.205 0h1.75m6.205 0h1.75M1015.05 609.29h1.75m6.205 0h1.75m6.205 0h1.75m6.205 0h1.75m6.205 0h1.75m6.205 0h1.75m6.205 0h1.75m6.205 0h1.75m6.205 0h1.75M1015.05 617.20h1.75m6.205 0h1.75m6.205 0h1.75m6.205 0h1.75m6.205 0h1.75m6.205 0h1.75m6.205 0h1.75m6.205 0h1.75m6.205 0h1.75M1015.05 625.12h1.75m6.205 0h1.75m6.205 0h1.75m6.205 0h1.75m6.205 0h1.75m6.205 0h1.75m6.205 0h1.75m6.205 0h1.75m6.205 0h1.75M1015.05 633.03h1.75m6.205 0h1.75m6.205 0h1.75m6.205 0h1.75m6.205 0h1.75m6.205 0h1.75m6.205 0h1.75m6.205 0h1.75m6.205 0h1.75M1015.05 640.95h1.75m6.205 0h1.75m6.205 0h1.75m6.205 0h1.75m6.205 0h1.75m6.205 0h1.75m6.205 0h1.75m6.205 0h1.75m6.205 0h1.75M1015.05 648.86h1.75m6.205 0h1.75m6.205 0h1.75m6.205 0h1.75m6.205 0h1.75m6.205 0h1.75m6.205 0h1.75m6.205 0h1.75m6.205 0h1.75M1015.05 656.78h1.75m6.205 0h1.75m6.205 0h1.75m6.205 0h1.75m6.205 0h1.75m6.205 0h1.75m6.205 0h1.75m6.205 0h1.75m6.205 0h1.75M1015.05 664.69h1.75m6.205 0h1.75m6.205 0h1.75m6.205 0h1.75m6.205 0h1.75m6.205 0h1.75m6.205 0h1.75m6.205 0h1.75m6.205 0h1.75M1015.05 672.61h1.75m6.205 0h1.75m6.205 0h1.75m6.205 0h1.75m6.205 0h1.75m6.205 0h1.75m6.205 0h1.75m6.205 0h1.75m6.205 0h1.75M1015.05 680.52h1.75m6.205 0h1.75m6.205 0h1.75m6.205 0h1.75m6.205 0h1.75m6.205 0h1.75m6.205 0h1.75m6.205 0h1.75m6.205 0h1.75M1015.05 688.44h1.75m6.205 0h1.75m6.205 0h1.75m6.205 0h1.75m6.205 0h1.75m6.205 0h1.75m6.205 0h1.75m6.205 0h1.75m6.205 0h1.75M1015.05 696.36h1.75m6.205 0h1.75m6.205 0h1.75m6.205 0h1.75m6.205 0h1.75m6.205 0h1.75m6.205 0h1.75m6.205 0h1.75m6.205 0h1.75M1015.05 704.27h1.75m6.205 0h1.75m6.205 0h1.75m6.205 0h1.75m6.205 0h1.75m6.205 0h1.75m6.205 0h1.75m6.205 0h1.75m6.205 0h1.75M1015.05 712.19h1.75m6.205 0h1.75m6.205 0h1.75m6.205 0h1.75m6.205 0h1.75m6.205 0h1.75m6.205 0h1.75m6.205 0h1.75m6.205 0h1.75M1015.05 720.10h1.75m6.205 0h1.75m6.205 0h1.75m6.205 0h1.75m6.205 0h1.75m6.205 0h1.75m6.205 0h1.75m6.205 0h1.75m6.205 0h1.75M1015.05 728.02h1.75m6.205 0h1.75m6.205 0h1.75m6.205 0h1.75m6.205 0h1.75m6.205 0h1.75m6.205 0h1.75m6.205 0h1.75m6.205 0h1.75M1015.05 735.93h1.75m6.205 0h1.75m6.205 0h1.75m6.205 0h1.75m6.205 0h1.75m6.205 0h1.75m6.205 0h1.75m6.205 0h1.75m6.205 0h1.75M1015.05 743.85h1.75m6.205 0h1.75m6.205 0h1.75m6.205 0h1.75m6.205 0h1.75m6.205 0h1.75m6.205 0h1.75m6.205 0h1.75m6.205 0h1.75M1015.05 751.76h1.75m6.205 0h1.75m6.205 0h1.75m6.205 0h1.75m6.205 0h1.75m6.205 0h1.75m6.205 0h1.75m6.205 0h1.75m6.205 0h1.75M1015.05 759.68h1.75m6.205 0h1.75m6.205 0h1.75m6.205 0h1.75m6.205 0h1.75m6.205 0h1.75m6.205 0h1.75m6.205 0h1.75m6.205 0h1.75M1015.05 767.59h1.75m6.205 0h1.75m6.205 0h1.75m6.205 0h1.75m6.205 0h1.75m6.205 0h1.75m6.205 0h1.75m6.205 0h1.75m6.205 0h1.75M1015.05 775.51h1.75m6.205 0h1.75m6.205 0h1.75m6.205 0h1.75m6.205 0h1.75m6.205 0h1.75m6.205 0h1.75m6.205 0h1.75m6.205 0h1.75M1015.05 783.42h1.75m6.205 0h1.75m6.205 0h1.75m6.205 0h1.75m6.205 0h1.75m6.205 0h1.75m6.205 0h1.75m6.205 0h1.75m6.205 0h1.75M1015.05 791.34h1.75m6.205 0h1.75m6.205 0h1.75m6.205 0h1.75m6.205 0h1.75m6.205 0h1.75m6.205 0h1.75m6.205 0h1.75m6.205 0h1.75M1015.05 799.26h1.75m6.205 0h1.75m6.205 0h1.75m6.205 0h1.75m6.205 0h1.75m6.205 0h1.75m6.205 0h1.75m6.205 0h1.75m6.205 0h1.75M1015.05 807.17h1.75m6.205 0h1.75m6.205 0h1.75m6.205 0h1.75m6.205 0h1.75m6.205 0h1.75m6.205 0h1.75m6.205 0h1.75m6.205 0h1.75M1015.05 815.09h1.75m6.205 0h1.75m6.205 0h1.75m6.205 0h1.75m6.205 0h1.75m6.205 0h1.75m6.205 0h1.75m6.205 0h1.75m6.205 0h1.75M1015.05 823.00h1.75m6.205 0h1.75m6.205 0h1.75m6.205 0h1.75m6.205 0h1.75m6.205 0h1.75m6.205 0h1.75m6.205 0h1.75m6.205 0h1.75M1015.05 830.92h1.75m6.205 0h1.75m6.205 0h1.75m6.205 0h1.75m6.205 0h1.75m6.205 0h1.75m6.205 0h1.75m6.205 0h1.75m6.205 0h1.75M1015.05 838.83h1.75m6.205 0h1.75m6.205 0h1.75m6.205 0h1.75m6.205 0h1.75m6.205 0h1.75m6.205 0h1.75m6.205 0h1.75m6.205 0h1.75M1015.05 846.75h1.75m6.205 0h1.75m6.205 0h1.75m6.205 0h1.75m6.205 0h1.75m6.205 0h1.75m6.205 0h1.75m6.205 0h1.75m6.205 0h1.75M1015.05 854.66h1.75m6.205 0h1.75m6.205 0h1.75m6.205 0h1.75m6.205 0h1.75m6.205 0h1.75m6.205 0h1.75m6.205 0h1.75m6.205 0h1.75M1015.05 862.58h1.75m6.205 0h1.75m6.205 0h1.75m6.205 0h1.75m6.205 0h1.75m6.205 0h1.75m6.205 0h1.75m6.205 0h1.75m6.205 0h1.75M1015.05 870.49h1.75m6.205 0h1.75m6.205 0h1.75m6.205 0h1.75m6.205 0h1.75m6.205 0h1.75m6.205 0h1.75m6.205 0h1.75m6.205 0h1.75M1015.05 878.41h1.75m6.205 0h1.75m6.205 0h1.75m6.205 0h1.75m6.205 0h1.75m6.205 0h1.75m6.205 0h1.75m6.205 0h1.75m6.205 0h1.75M1015.05 886.32h1.75m6.205 0h1.75m6.205 0h1.75m6.205 0h1.75m6.205 0h1.75m6.205 0h1.75m6.205 0h1.75m6.205 0h1.75m6.205 0h1.75M1015.05 894.24h1.75m6.205 0h1.75m6.205 0h1.75m6.205 0h1.75m6.205 0h1.75m6.205 0h1.75m6.205 0h1.75m6.205 0h1.75m6.205 0h1.75M1015.05 902.16h1.75m6.205 0h1.75m6.205 0h1.75m6.205 0h1.75m6.205 0h1.75m6.205 0h1.75m6.205 0h1.75m6.205 0h1.75m6.205 0h1.75M1015.05 910.07h1.75m6.205 0h1.75m6.205 0h1.75m6.205 0h1.75m6.205 0h1.75m6.205 0h1.75m6.205 0h1.75m6.205 0h1.75m6.205 0h1.75M1015.05 917.99h1.75m6.205 0h1.75m6.205 0h1.75m6.205 0h1.75m6.205 0h1.75m6.205 0h1.75m6.205 0h1.75m6.205 0h1.75m6.205 0h1.75M1015.05 925.90h1.75m6.205 0h1.75m6.205 0h1.75m6.205 0h1.75m6.205 0h1.75m6.205 0h1.75m6.205 0h1.75m6.205 0h1.75m6.205 0h1.75M1015.05 933.82h1.75m6.205 0h1.75m6.205 0h1.75m6.205 0h1.75m6.205 0h1.75m6.205 0h1.75m6.205 0h1.75m6.205 0h1.75m6.205 0h1.75M1015.05 941.73h1.75m6.205 0h1.75m6.205 0h1.75m6.205 0h1.75m6.205 0h1.75m6.205 0h1.75m6.205 0h1.75m6.205 0h1.75m6.205 0h1.75M1015.05 949.65h1.75m6.205 0h1.75m6.205 0h1.75m6.205 0h1.75m6.205 0h1.75m6.205 0h1.75m6.205 0h1.75m6.205 0h1.75m6.205 0h1.75M1015.05 957.56h1.75m6.205 0h1.75m6.205 0h1.75m6.205 0h1.75m6.205 0h1.75m6.205 0h1.75m6.205 0h1.75m6.205 0h1.75m6.205 0h1.75M1015.05 965.48h1.75m6.205 0h1.75m6.205 0h1.75m6.205 0h1.75m6.205 0h1.75m6.205 0h1.75m6.205 0h1.75m6.205 0h1.75m6.205 0h1.75M1015.05 973.39h1.75m6.205 0h1.75m6.205 0h1.75m6.205 0h1.75m6.205 0h1.75m6.205 0h1.75m6.205 0h1.75m6.205 0h1.75m6.205 0h1.75M1015.05 981.31h1.75m6.205 0h1.75m6.205 0h1.75m6.205 0h1.75m6.205 0h1.75m6.205 0h1.75m6.205 0h1.75m6.205 0h1.75m6.205 0h1.75M1015.05 989.22h1.75m6.205 0h1.75m6.205 0h1.75m6.205 0h1.75m6.205 0h1.75m6.205 0h1.75m6.205 0h1.75m6.205 0h1.75m6.205 0h1.75M1015.05 997.14h1.75m6.205 0h1.75m6.205 0h1.75m6.205 0h1.75m6.205 0h1.75m6.205 0h1.75m6.205 0h1.75m6.205 0h1.75m6.205 0h1.75M1015.05 1005.06h1.75m6.205 0h1.75m6.205 0h1.75m6.205 0h1.75m6.205 0h1.75m6.205 0h1.75m6.205 0h1.75m6.205 0h1.75m6.205 0h1.75M1015.05 1012.97h1.75m6.205 0h1.75m6.205 0h1.75m6.205 0h1.75m6.205 0h1.75m6.205 0h1.75m6.205 0h1.75m6.205 0h1.75m6.205 0h1.75M1015.05 1020.89h1.75m6.205 0h1.75m6.205 0h1.75m6.205 0h1.75m6.205 0h1.75m6.205 0h1.75m6.205 0h1.75m6.205 0h1.75m6.205 0h1.75M1015.05 1028.80h1.75m6.205 0h1.75m6.205 0h1.75m6.205 0h1.75m6.205 0h1.75m6.205 0h1.75m6.205 0h1.75m6.205 0h1.75m6.205 0h1.75M1015.05 1036.72h1.75m6.205 0h1.75m6.205 0h1.75m6.205 0h1.75m6.205 0h1.75m6.205 0h1.75m6.205 0h1.75m6.205 0h1.75m6.205 0h1.75M1015.05 1044.63h1.75m6.205 0h1.75m6.205 0h1.75m6.205 0h1.75m6.205 0h1.75m6.205 0h1.75m6.205 0h1.75m6.205 0h1.75m6.205 0h1.75M1015.05 1052.55h1.75m6.205 0h1.75m6.205 0h1.75m6.205 0h1.75m6.205 0h1.75m6.205 0h1.75m6.205 0h1.75m6.205 0h1.75m6.205 0h1.75M1015.05 1060.46h1.75m6.205 0h1.75m6.205 0h1.75m6.205 0h1.75m6.205 0h1.75m6.205 0h1.75m6.205 0h1.75m6.205 0h1.75m6.205 0h1.75M1015.05 1068.38h1.75m6.205 0h1.75m6.205 0h1.75m6.205 0h1.75m6.205 0h1.75m6.205 0h1.75m6.205 0h1.75m6.205 0h1.75m6.205 0h1.75M1015.05 1076.29h1.75m6.205 0h1.75m6.205 0h1.75m6.205 0h1.75m6.205 0h1.75m6.205 0h1.75m6.205 0h1.75m6.205 0h1.75m6.205 0h1.75" stroke="#404040" stroke-width="1.0" fill="none"/>
</svg></body></html>
